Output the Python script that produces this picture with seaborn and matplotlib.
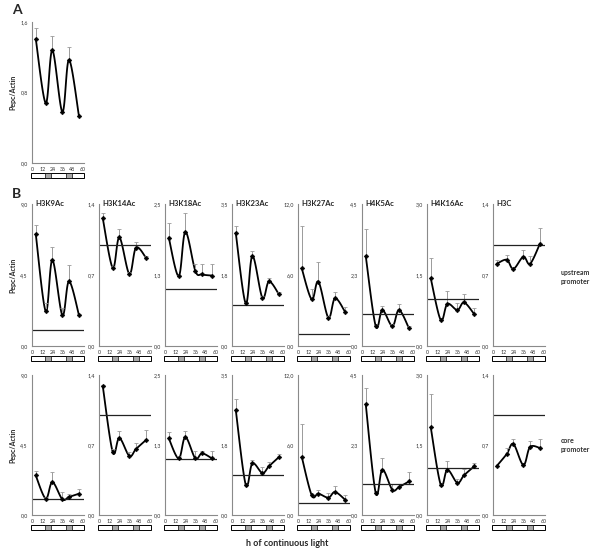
import numpy as np
import matplotlib
matplotlib.use("Agg")
import matplotlib.pyplot as plt
import matplotlib.transforms as mtrans
from matplotlib.patches import Rectangle
import seaborn as sns

# sampling times (h of continuous light)
hours = [4, 16, 24, 36, 44, 56]
night_blocks = [(15, 22), (40, 47)]
x_ticks = [0, 12, 24, 36, 48, 60]

# panel A
a_vals = [1.41, 0.68, 1.28, 0.58, 1.17, 0.53]
a_err = [0.12, 0.0, 0.16, 0.0, 0.15, 0.0]
a_ymax = 1.6
a_yticklabels = ["0,0", "0,8", "1,6"]

# panel B
marks = ["H3K9Ac", "H3K14Ac", "H3K18Ac", "H3K23Ac", "H3K27Ac", "H4K5Ac", "H4K16Ac", "H3C"]
ymax = [9.0, 1.4, 2.5, 3.5, 12.0, 4.5, 3.0, 1.4]
ytick_labels = [["0,0", "4,5", "9,0"], ["0,0", "0,7", "1,4"], ["0,0", "1,3", "2,5"],
                ["0,0", "1,8", "3,5"], ["0,0", "6,0", "12,0"], ["0,0", "2,3", "4,5"],
                ["0,0", "1,5", "3,0"], ["0,0", "0,7", "1,4"]]
reference_level = 1.0

upstream_vals = [
    [7.1, 2.2, 5.45, 1.95, 4.1, 1.95],
    [1.26, 0.77, 1.07, 0.71, 0.97, 0.87],
    [1.91, 1.23, 2.01, 1.32, 1.26, 1.24],
    [2.79, 1.05, 2.22, 1.19, 1.59, 1.27],
    [6.56, 3.94, 5.44, 2.39, 4.03, 2.9],
    [2.85, 0.63, 1.14, 0.63, 1.14, 0.56],
    [1.43, 0.55, 0.89, 0.76, 0.92, 0.68],
    [0.81, 0.85, 0.76, 0.88, 0.81, 1.01],
]
upstream_err = [
    [0.55, 0.5, 0.85, 0.45, 1.05, 0.1],
    [0.05, 0.02, 0.08, 0.02, 0.06, 0.02],
    [0.25, 0.02, 0.33, 0.12, 0.18, 0.2],
    [0.17, 0.04, 0.12, 0.04, 0.08, 0.07],
    [3.6, 0.9, 1.65, 0.12, 0.5, 0.4],
    [0.85, 0.02, 0.14, 0.06, 0.2, 0.08],
    [0.42, 0.03, 0.28, 0.14, 0.18, 0.12],
    [0.04, 0.05, 0.01, 0.07, 0.08, 0.15],
]
core_vals = [
    [2.54, 1.06, 2.11, 1.01, 1.16, 1.37],
    [1.29, 0.63, 0.77, 0.59, 0.66, 0.75],
    [1.37, 1.01, 1.39, 1.01, 1.10, 1.01],
    [2.63, 0.76, 1.29, 1.05, 1.22, 1.45],
    [4.99, 1.69, 1.83, 1.49, 1.97, 1.32],
    [3.56, 0.71, 1.46, 0.81, 0.90, 1.08],
    [1.88, 0.65, 0.97, 0.69, 0.85, 1.04],
    [0.49, 0.61, 0.71, 0.50, 0.68, 0.67],
]
core_err = [
    [0.32, 0.1, 0.64, 0.45, 0.2, 0.28],
    [0.01, 0.03, 0.07, 0.04, 0.06, 0.1],
    [0.11, 0.05, 0.11, 0.13, 0.04, 0.13],
    [0.27, 0.01, 0.08, 0.14, 0.11, 0.07],
    [2.84, 0.05, 0.28, 0.4, 0.48, 0.43],
    [0.53, 0.01, 0.37, 0.2, 0.1, 0.29],
    [0.72, 0.02, 0.19, 0.08, 0.14, 0.07],
    [0.0, 0.06, 0.05, 0.0, 0.06, 0.09],
]

sns.set_style("white")
plt.rcParams["font.family"] = ["Lato", "DejaVu Sans"]

W, H = 600, 555
fig = plt.figure(figsize=(W / 100, H / 100), dpi=100)

col_left = [32, 99, 165, 232, 298, 362, 427, 493]
ax_w = 52


def smooth(x, y, n=24):
    # catmull-rom curve through the points (like Excel's smoothed line)
    pts = np.column_stack([x, y]).astype(float)
    pad = np.vstack([pts[0], pts, pts[-1]])
    out = []
    t = np.linspace(0, 1, n, endpoint=False)[:, None]
    for i in range(len(pts) - 1):
        p0, p1, p2, p3 = pad[i], pad[i + 1], pad[i + 2], pad[i + 3]
        seg = 0.5 * (2 * p1 + (-p0 + p2) * t + (2 * p0 - 5 * p1 + 4 * p2 - p3) * t ** 2
                     + (-p0 + 3 * p1 - 3 * p2 + p3) * t ** 3)
        out.append(seg)
    out.append(pts[-1:])
    out = np.vstack(out)
    return out[:, 0], out[:, 1]


def light_bar(ax, hpx):
    tr = mtrans.blended_transform_factory(ax.transData, ax.transAxes)
    y0 = -15 / hpx
    h = 5 / hpx
    ax.add_patch(Rectangle((-2, y0), 64, h, transform=tr, clip_on=False,
                           facecolor="white", edgecolor="black", lw=0.7))
    for a, b in night_blocks:
        ax.add_patch(Rectangle((a, y0), b - a, h, transform=tr, clip_on=False,
                               facecolor="#a8a8a8", edgecolor="black", lw=0.5))


def draw_panel(left_px, top_px, bot_px, vals, err, top, yl, title=None, show_ref=True, ylabel=False):
    hpx = bot_px - top_px
    ax = fig.add_axes([left_px / W, (H - bot_px) / H, ax_w / W, hpx / H])
    ax.set_xlim(-0.5, 62)
    ax.set_ylim(0, top)
    xs, ys = smooth(hours, vals)
    sns.lineplot(x=xs, y=ys, ax=ax, color="black", lw=1.3, sort=False, estimator=None)
    ax.errorbar(hours, vals, yerr=[np.zeros(len(err)), err], fmt="none",
                ecolor="#9a9a9a", elinewidth=0.7, capsize=1.2, capthick=0.6)
    sns.scatterplot(x=hours, y=vals, ax=ax, color="black", marker="D", s=6,
                    edgecolor="black", linewidth=0.3, zorder=5)
    if show_ref:
        ax.axhline(reference_level, color="#222222", lw=0.9)
    ax.set_yticks([0, top / 2, top])
    ax.set_yticklabels(yl)
    ax.set_xticks(x_ticks)
    ax.set_xticklabels([str(v) for v in x_ticks])
    ax.tick_params(axis="both", labelsize=3.8, length=2, width=0.5, pad=1,
                   colors="#555555", labelcolor="#333333")
    sns.despine(ax=ax)
    for s in ["left", "bottom"]:
        ax.spines[s].set_color("#8a8a8a")
        ax.spines[s].set_linewidth(0.8)
    if title:
        ax.text(0.06, 1.0, title, transform=ax.transAxes, fontsize=5.5, fontweight="bold",
                ha="left", va="center")
    if ylabel:
        ax.set_ylabel("Pepc/Actin", fontsize=5, fontweight="bold", labelpad=3)
    light_bar(ax, hpx)
    return ax


# panel A
draw_panel(32, 22, 163, a_vals, a_err, a_ymax, a_yticklabels, show_ref=False, ylabel=True)

# panel B: upstream and core promoter rows
for i in range(len(marks)):
    draw_panel(col_left[i], 204, 346, upstream_vals[i], upstream_err[i], ymax[i],
               ytick_labels[i], title=marks[i], ylabel=(i == 0))
    draw_panel(col_left[i], 375, 515, core_vals[i], core_err[i], ymax[i],
               ytick_labels[i], ylabel=(i == 0))

fig.text(12 / W, 1 - 10 / H, "A", fontsize=10, fontweight="bold", va="center")
fig.text(12 / W, 1 - 194 / H, "B", fontsize=10, fontweight="bold", va="center")
fig.text(561 / W, 1 - 277 / H, "upstream\npromoter", fontsize=5, fontweight="bold",
         color="#333333", va="center", linespacing=1.3)
fig.text(561 / W, 1 - 445 / H, "core\npromoter", fontsize=5, fontweight="bold",
         color="#333333", va="center", linespacing=1.3)
fig.text(287 / W, 1 - 543 / H, "h of continuous light", fontsize=6.5, fontweight="bold",
         ha="center", va="center")

fig.savefig("out.png", dpi=100)
